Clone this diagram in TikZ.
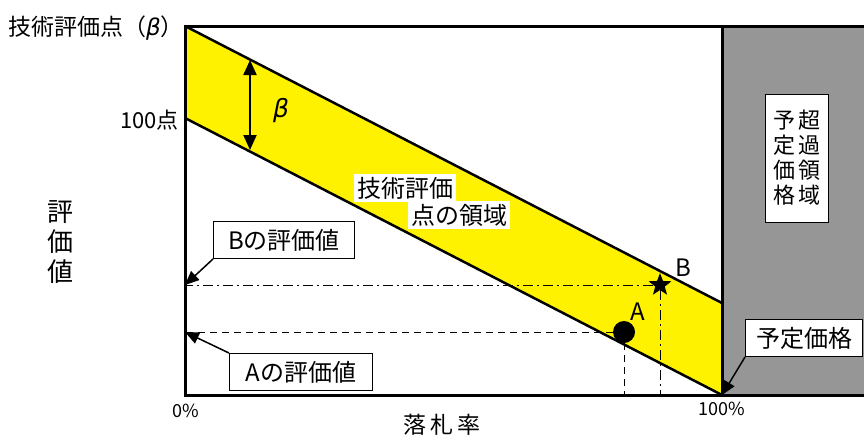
\documentclass[tikz,border=0pt]{standalone}
\usepackage{fontspec}
\setmainfont{Noto Sans CJK JP}
\newfontfamily\grk{DejaVu Sans}
\usetikzlibrary{arrows.meta}
\usetikzlibrary{shapes.geometric}
\definecolor{pgray}{RGB}{150,150,150}

\begin{document}
\begin{tikzpicture}[x=1pt, y=-1pt, >={Triangle[length=14pt, width=12pt]}]
\tikzstyle{axis} = [draw=black, line width=3pt]
\tikzstyle{band} = [draw=black, line width=2.5pt]
\tikzstyle{lbl} = [draw=black, fill=white, line width=1pt, inner sep=0pt, minimum height=37pt, font=\fontsize{24}{28}\selectfont]
\tikzstyle{e} = [->, draw=black, line width=1.5pt]
\tikzstyle{ha} = [draw=black, line width=1pt, dash pattern=on 7pt off 5pt]
\tikzstyle{hb} = [draw=black, line width=1pt, dash pattern=on 10pt off 4pt on 2pt off 4pt]

\useasboundingbox (0,0) rectangle (864,440);

% frame corners
\coordinate (O) at (185,395);
\coordinate (T) at (185,26);
\coordinate (H) at (185,118);
\coordinate (P) at (722,395);
\coordinate (Q) at (722,303);
\coordinate (PT) at (722,26);
\coordinate (R) at (864,395);
\coordinate (RT) at (864,26);

\fill[pgray] (PT) rectangle (R);
\fill[yellow] (T) -- (Q) -- (P) -- (H) -- cycle;
\draw[band] (T) -- (Q);
\draw[band] (H) -- (P);
\draw[axis] (RT) -- (T) -- (O) -- (R);
\draw[axis] (PT) -- (P);

% points A and B
\node[circle, fill=black, minimum size=22pt, inner sep=0pt](A) at (624,332) {};
\node[star, star points=5, star point ratio=2.4, fill=black, minimum size=24pt, inner sep=0pt](B) at (660,285) {};
\coordinate (Ay) at (185,332);
\coordinate (Ax) at (624,395);
\coordinate (By) at (185,285);
\coordinate (Bx) at (660,395);
\draw[ha] (A) -- (Ay);
\draw[ha] (A) -- (Ax);
\draw[hb] (B) -- (By);
\draw[hb] (B) -- (Bx);
\node[font=\fontsize{24}{28}\selectfont](An) at (638,312) {A};
\node[font=\fontsize{24}{28}\selectfont](Bn) at (683,268) {B};

% beta
\coordinate (b1) at (250,60);
\coordinate (b2) at (250,150);
\draw[{Triangle[length=15pt, width=13pt]}-{Triangle[length=15pt, width=13pt]}, line width=2pt] (b1) -- (b2);
\node[font=\fontsize{25}{28}\selectfont\grk\itshape](bt) at (281,111) {β};

% texts
\node[anchor=east, inner sep=0pt, font=\fontsize{23}{26}\selectfont](ttl) at (184,28) {技術評価点（{\grk\itshape β}）};
\node[anchor=east, inner sep=0pt, font=\fontsize{22}{24}\selectfont](hp) at (179,120) {100点};
\node[align=center, font=\fontsize{26}{30}\selectfont](ev) at (60,242) {評\\価\\値};
\node[font=\fontsize{23}{26}\selectfont](ax) at (442,425) {落\,札\,率};
\node[font=\fontsize{18}{20}\selectfont](z) at (186,411) {0\%};
\node[font=\fontsize{18}{20}\selectfont](h) at (722,409) {100\%};
\node[fill=white, inner sep=3pt, font=\fontsize{24}{28}\selectfont](r1) at (405,188) {技術評価};
\node[fill=white, inner sep=3pt, font=\fontsize{24}{28}\selectfont](r2) at (459,215) {点の領域};

% boxes
\node[lbl, minimum width=141pt](lb) at (284,240) {Bの評価値};
\node[lbl, minimum width=143pt](la) at (301,372) {Aの評価値};
\node[lbl, minimum width=117pt](lp) at (804,338) {予定価格};
\node[draw=black, fill=white, line width=1pt, minimum width=63pt, minimum height=128pt, align=center, font=\fontsize{22}{25}\selectfont](ov) at (797,158) {予\hspace{3pt}超\\定\hspace{3pt}過\\価\hspace{3pt}領\\格\hspace{3pt}域};

\draw[e] (lb.south west) -- (By);
\draw[e] (la.north west) -- (Ay);
\draw[e] (lp.south west) -- (P);
\end{tikzpicture}
\end{document}
